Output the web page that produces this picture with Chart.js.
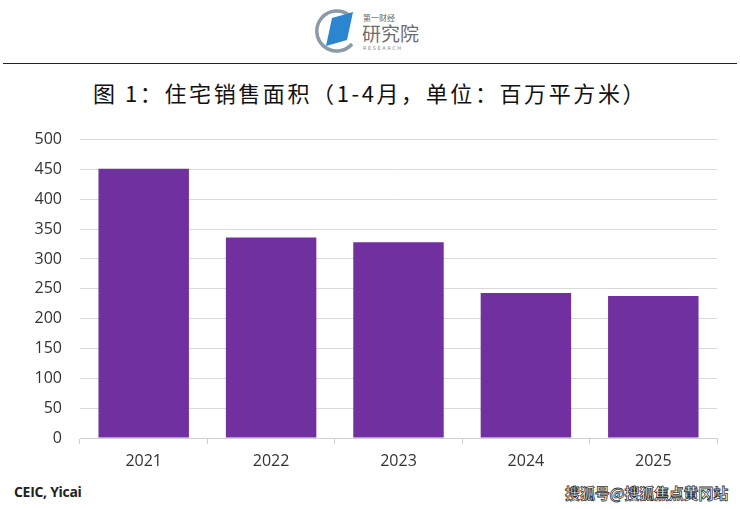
<!DOCTYPE html>
<html>
<head>
<meta charset="utf-8">
<script src="https://cdn.jsdelivr.net/npm/chart.js@4"></script>
<style>
  body { margin: 0; width: 740px; height: 509px; background: #fff; position: relative; overflow: hidden; font-family: "Noto Sans CJK SC", "Noto Sans", sans-serif; }
  #logo { position: absolute; left: 310px; top: 4px; }
  #rule { position: absolute; left: 3px; top: 63px; width: 734px; height: 1px; background: #222; }
  #title { position: absolute; left: 0; top: 76px; width: 740px; text-align: center; font-size: 22px; letter-spacing: 2.6px; color: #111; font-family: "Noto Sans CJK SC", serif; }
  #chartBox { position: absolute; left: 0; top: 112px; width: 740px; height: 366px; }
  #source { position: absolute; left: 14px; top: 482px; font-family: "Open Sans", "Liberation Sans", sans-serif; font-weight: bold; font-size: 14px; color: #222; letter-spacing: -0.3px; }
  #mark { position: absolute; right: 12px; top: 482px; font-size: 15px; font-weight: bold; color: #fff; -webkit-text-stroke: 0.8px #333; letter-spacing: -0.2px; }
</style>
</head>
<body>
<svg id="logo" width="130" height="52" viewBox="0 0 130 52">
  <path d="M40 12 A20 20 0 1 0 42 40" fill="none" stroke="#8a9aa6" stroke-width="3.5"/>
  <polygon points="16,42 22,14 43,8 37,36" fill="#2b86cf"/>
  <text x="53" y="17" font-size="8" fill="#666" font-family="Noto Sans CJK SC">第一财经</text>
  <text x="52" y="37" font-size="19" fill="#6d6d6d" font-family="Noto Sans CJK SC">研究院</text>
  <text x="53" y="46" font-size="5" fill="#888" letter-spacing="1.6" font-family="DejaVu Sans">RESEARCH</text>
</svg>
<div id="rule"></div>
<div id="title">图 1：住宅销售面积（1-4月，单位：百万平方米）</div>
<div id="chartBox"><canvas id="barChart"></canvas></div>
<div id="source">CEIC, Yicai</div>
<div id="mark">搜狐号@搜狐焦点黄冈站</div>

<script>
const years = ['2021', '2022', '2023', '2024', '2025'];
const saleArea = [451, 336, 328, 243, 238];
const yTicks = [0, 50, 100, 150, 200, 250, 300, 350, 400, 450, 500];

const ctx = document.getElementById('barChart').getContext('2d');
const chart = new Chart(ctx, {
  type: 'bar',
  data: {
    labels: years,
    datasets: [{
      data: saleArea,
      backgroundColor: '#7030a0',
      categoryPercentage: 0.71,
      barPercentage: 1.0
    }]
  },
  options: {
    responsive: true,
    maintainAspectRatio: false,
    animation: false,
    layout: { padding: { top: 9, right: 23, left: 0, bottom: 0 } },
    plugins: { legend: { display: false }, tooltip: { enabled: false } },
    scales: {
      x: {
        grid: { display: true, drawOnChartArea: false, offset: true, tickLength: 6, color: '#d0d0d0' },
        border: { color: '#d0d0d0' },
        ticks: { color: '#333', padding: 8, font: { family: 'Open Sans', size: 16 } },
        afterFit: (axis) => { axis.height = 40; }
      },
      y: {
        min: 0,
        max: 500,
        afterBuildTicks: (axis) => { axis.ticks = yTicks.map(v => ({ value: v })); },
        grid: { color: '#d9d9d9', drawTicks: false },
        border: { display: false },
        ticks: { color: '#333', padding: 18, font: { family: 'Open Sans', size: 16 } },
        afterFit: (axis) => { axis.width = 80; }
      }
    }
  }
});
</script>
</body>
</html>
